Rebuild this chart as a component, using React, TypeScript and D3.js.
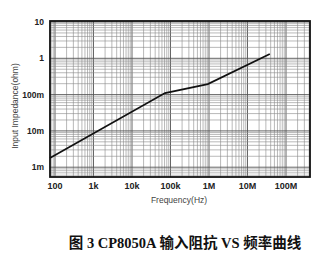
import React from "react";
import * as d3 from "d3";

const W = 324;
const H = 264;

const xTickValues = [1e2, 1e3, 1e4, 1e5, 1e6, 1e7, 1e8];
const xTickLabels = ["100", "1k", "10k", "100k", "1M", "10M", "100M"];
const yTickValues = [10, 1, 0.1, 0.01, 0.001];
const yTickLabels = ["10", "1", "100m", "10m", "1m"];

const freqHz = [74, 72000, 930000, 38000000];
const impedanceOhm = [0.0018, 0.11, 0.195, 1.31];

const plotLeft = 50;
const plotRight = 310;
const plotTop = 21;
const plotBottom = 177;

export default function App() {
  const x = d3
    .scaleLog()
    .domain([Math.pow(10, 2 - 5 / 38.5), Math.pow(10, 2 + 255 / 38.5)])
    .range([plotLeft, plotRight]);
  const y = d3
    .scaleLog()
    .domain([Math.pow(10, 1 - 155 / 36.3), Math.pow(10, 1 + 1 / 36.3)])
    .range([plotBottom, plotTop]);

  const xGrid: number[] = [];
  for (let e = 1; e <= 9; e++) {
    for (let m = 1; m <= 9; m++) {
      const v = m * Math.pow(10, e);
      if (v > x.domain()[0] && v < x.domain()[1]) xGrid.push(v);
    }
  }
  const yGrid: number[] = [];
  for (let e = -4; e <= 1; e++) {
    for (let m = 1; m <= 9; m++) {
      const v = m * Math.pow(10, e);
      if (v > y.domain()[0] && v < y.domain()[1]) yGrid.push(v);
    }
  }

  const line = d3
    .line<number>()
    .x((d, i) => x(freqHz[i]))
    .y((d) => y(d));

  return (
    <svg
      width={W}
      height={H}
      style={{ position: "absolute", left: 0, top: 0, background: "#fff" }}
    >
      <rect x={0} y={0} width={W} height={H} fill="#fff" />
      {xGrid.map((v, i) => {
        const major = Math.abs(Math.log10(v) - Math.round(Math.log10(v))) < 1e-9;
        return (
          <line
            key={"xg" + i}
            x1={x(v)}
            x2={x(v)}
            y1={plotTop}
            y2={plotBottom}
            stroke={major ? "#555" : "#8a8a8a"}
            strokeWidth={major ? 0.9 : 0.6}
          />
        );
      })}
      {yGrid.map((v, i) => {
        const major = Math.abs(Math.log10(v) - Math.round(Math.log10(v))) < 1e-9;
        return (
          <line
            key={"yg" + i}
            x1={plotLeft}
            x2={plotRight}
            y1={y(v)}
            y2={y(v)}
            stroke={major ? "#555" : "#8a8a8a"}
            strokeWidth={major ? 0.9 : 0.6}
          />
        );
      })}
      <rect
        x={plotLeft}
        y={plotTop}
        width={plotRight - plotLeft}
        height={plotBottom - plotTop}
        fill="none"
        stroke="#111"
        strokeWidth={1.8}
      />
      <path
        d={line(impedanceOhm) || ""}
        fill="none"
        stroke="#111"
        strokeWidth={1.7}
      />
      {xTickValues.map((v, i) => (
        <text
          key={"xt" + i}
          x={x(v)}
          y={189}
          textAnchor="middle"
          fontFamily="'Liberation Sans', Arial, sans-serif"
          fontWeight="bold"
          fontSize={9}
          fill="#222"
        >
          {xTickLabels[i]}
        </text>
      ))}
      {yTickValues.map((v, i) => (
        <text
          key={"yt" + i}
          x={44}
          y={y(v) + 3}
          textAnchor="end"
          fontFamily="'Liberation Sans', Arial, sans-serif"
          fontWeight="bold"
          fontSize={8.5}
          fill="#222"
        >
          {yTickLabels[i]}
        </text>
      ))}
      <text
        x={179}
        y={203}
        textAnchor="middle"
        fontFamily="'Liberation Sans', Arial, sans-serif"
        fontSize={8.5}
        fill="#444"
      >
        Frequency(Hz)
      </text>
      <text
        transform="translate(18,106) rotate(-90)"
        textAnchor="middle"
        fontFamily="'Liberation Sans', Arial, sans-serif"
        fontSize={8.5}
        fill="#444"
      >
        Input Impedance(ohm)
      </text>
      <text
        x={185}
        y={248}
        textAnchor="middle"
        fontFamily="'Liberation Serif', 'Noto Sans CJK SC', serif"
        fontWeight="bold"
        fontSize={14.5}
        fill="#111"
      >
        图 3 CP8050A 输入阻抗 VS 频率曲线
      </text>
    </svg>
  );
}
